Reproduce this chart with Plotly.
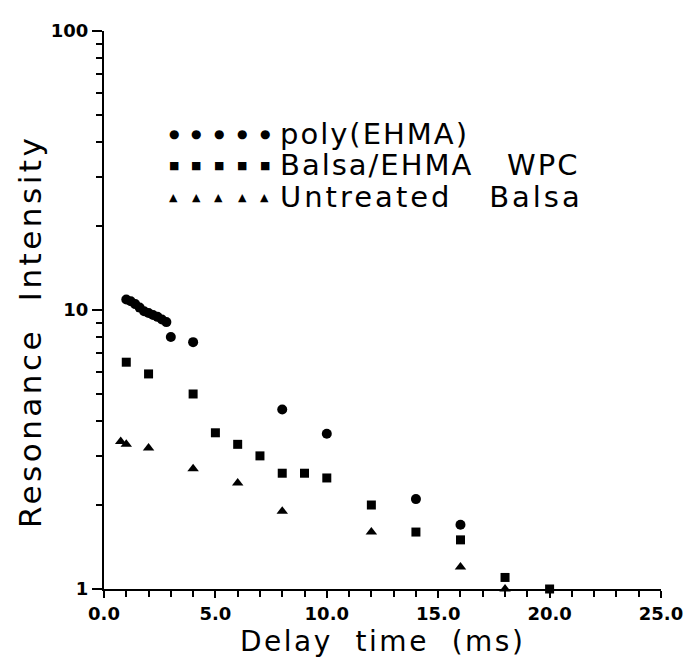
import plotly.graph_objects as go

# ---- data ----
ehma_x = [1.0, 1.2, 1.4, 1.6, 1.8, 2.0, 2.2, 2.4, 2.6, 2.8, 3.0, 4.0, 8.0, 10.0, 14.0, 16.0]
ehma_y = [10.9, 10.75, 10.5, 10.2, 9.9, 9.75, 9.6, 9.45, 9.25, 9.05, 8.0, 7.67, 4.4, 3.6, 2.1, 1.7]

wpc_x = [1.0, 2.0, 4.0, 5.0, 6.0, 7.0, 8.0, 9.0, 10.0, 12.0, 14.0, 16.0, 18.0, 20.0]
wpc_y = [6.5, 5.9, 5.0, 3.63, 3.3, 3.0, 2.6, 2.6, 2.5, 2.0, 1.6, 1.5, 1.1, 1.0]

balsa_x = [0.75, 1.0, 2.0, 4.0, 6.0, 8.0, 12.0, 16.0, 18.0]
balsa_y = [3.38, 3.3, 3.2, 2.7, 2.4, 1.9, 1.6, 1.2, 1.0]

x_ticks = [0, 5, 10, 15, 20, 25]
x_ticklabels = ["0.0", "5.0", "10.0", "15.0", "20.0", "25.0"]
y_ticks = [1, 10, 100]
y_ticklabels = ["1", "10", "100"]
y_minor = [2, 3, 4, 5, 6, 7, 8, 9, 20, 30, 40, 50, 60, 70, 80, 90]

legend_names = ["poly(EHMA)", "Balsa/EHMA   WPC", "Untreated   Balsa"]
legend_glyphs = ["●", "■", "▲"]
legend_glyph_sizes = [12, 11, 11]
legend_spacing = [2, 2, 3]

FONT = "DejaVu Sans"


def spaced(text, px):
    return '<span style="letter-spacing:%spx">%s</span>' % (px, text)


fig = go.Figure()
fig.add_trace(go.Scatter(x=ehma_x, y=ehma_y, mode="markers", cliponaxis=False,
                         marker=dict(symbol="circle", size=10, color="black")))
fig.add_trace(go.Scatter(x=wpc_x, y=wpc_y, mode="markers", cliponaxis=False,
                         marker=dict(symbol="square", size=9, color="black")))
fig.add_trace(go.Scatter(x=balsa_x, y=balsa_y, mode="markers", cliponaxis=False,
                         marker=dict(symbol="triangle-up", size=10, color="black")))

annotations = []
rows_y = [0.815, 0.759, 0.702]
glyph_x = [0.1248, 0.1652, 0.2056, 0.2478, 0.2882]
for name, glyph, gs, sp, yy in zip(legend_names, legend_glyphs, legend_glyph_sizes,
                                   legend_spacing, rows_y):
    for gx in glyph_x:
        annotations.append(dict(xref="paper", yref="paper", x=gx, y=yy, xanchor="center",
                                yanchor="middle", showarrow=False, text=glyph,
                                font=dict(family=FONT, size=gs, color="black")))
    annotations.append(dict(xref="paper", yref="paper", x=0.313, y=yy, xanchor="left",
                            yanchor="middle", showarrow=False, text=spaced(name, sp),
                            font=dict(family=FONT, size=29, color="black")))

annotations.append(dict(xref="paper", yref="paper", x=0.5, y=-0.0935, xanchor="center",
                        yanchor="middle", showarrow=False, text=spaced("Delay  time  (ms)", 2.5),
                        font=dict(family=FONT, size=28, color="black")))
annotations.append(dict(xref="paper", yref="paper", x=-0.134, y=0.461, xanchor="center",
                        yanchor="middle", showarrow=False,
                        text=spaced("Resonance  Intensity", 3.5),
                        textangle=-90, font=dict(family=FONT, size=31, color="black")))

fig.update_layout(
    width=687, height=650, autosize=False,
    margin=dict(l=96, r=22, t=13, b=69),
    paper_bgcolor="white", plot_bgcolor="white",
    showlegend=False,
    annotations=annotations,
    xaxis=dict(range=[0, 25], tickmode="array", tickvals=x_ticks, ticktext=x_ticklabels,
               ticks="outside", ticklen=7, tickwidth=1.5, tickcolor="black",
               showline=True, linecolor="black", linewidth=2, showgrid=False, zeroline=False,
               ticklabeloverflow="allow",
               tickfont=dict(family=FONT, size=18, color="black", weight="bold"),
               minor=dict(dtick=1, ticks="outside", ticklen=6, tickwidth=1.5, tickcolor="black",
                          showgrid=False)),
    yaxis=dict(type="log", range=[0, 2], tickmode="array", tickvals=y_ticks, ticktext=y_ticklabels,
               ticks="outside", ticklen=10, tickwidth=1.5, tickcolor="black",
               showline=True, linecolor="black", linewidth=2, showgrid=False, zeroline=False,
               tickfont=dict(family=FONT, size=18, color="black", weight="bold"),
               minor=dict(tickmode="array", tickvals=y_minor, ticks="outside", ticklen=6,
                          tickwidth=1.5, tickcolor="black", showgrid=False)),
)

fig.write_html("out.html")
